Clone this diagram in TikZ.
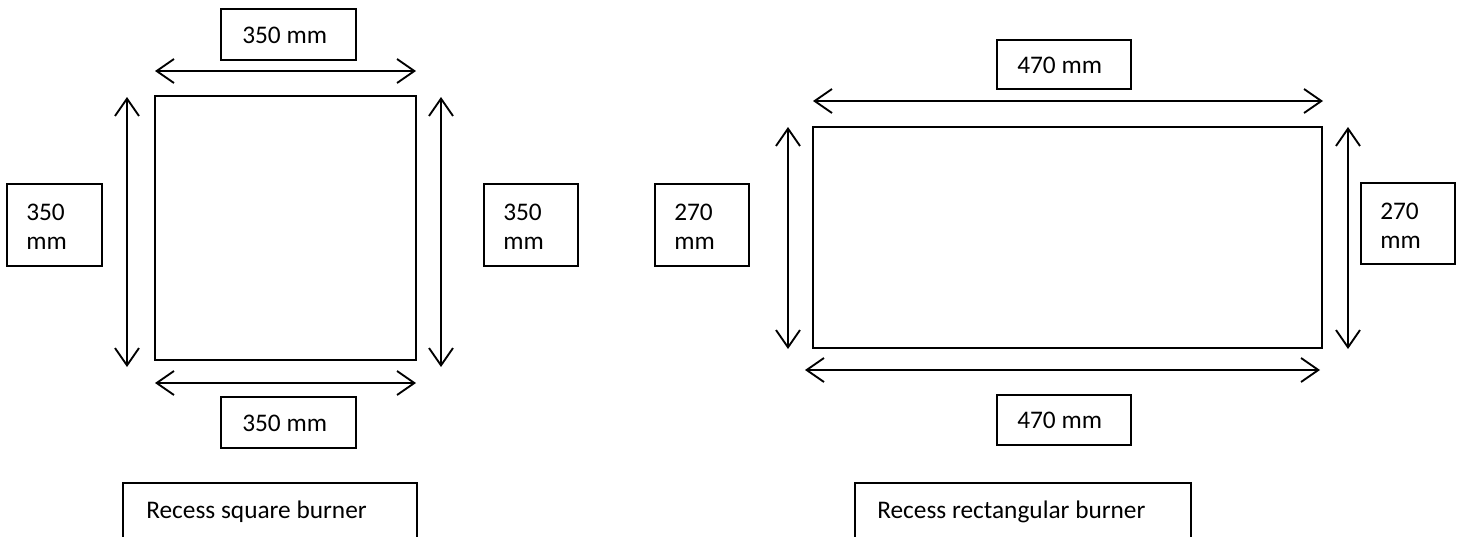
\documentclass[tikz,border=0pt]{standalone}
\usepackage{fontspec}
\setmainfont{Carlito}
\usetikzlibrary{arrows.meta}
\begin{document}
\begin{tikzpicture}[x=0.75pt,y=-0.75pt,
  dim/.style={line width=1.5pt,{Straight Barb[length=13pt,width=18pt,line width=1.4pt]}-{Straight Barb[length=13pt,width=18pt,line width=1.4pt]}},
  part/.style={draw,line width=0.9pt},
  txt/.style={anchor=west,inner sep=0pt,font=\fontsize{19}{21.5}\selectfont,align=left}]
\useasboundingbox (0,0) rectangle (1464,536);
% ---------- square burner ----------
\draw[part] (155,96) rectangle (416,360);
\coordinate (sTl) at (155,71); \coordinate (sTr) at (416,71);
\draw[dim] (sTl) -- (sTr);
\coordinate (sLt) at (127,97); \coordinate (sLb) at (127,367);
\draw[dim] (sLt) -- (sLb);
\coordinate (sRt) at (441,97); \coordinate (sRb) at (441,367);
\draw[dim] (sRt) -- (sRb);
\coordinate (sBl) at (155,383); \coordinate (sBr) at (416,383);
\draw[dim] (sBl) -- (sBr);
\draw[part] (221,9) rectangle (356,60);
\node[txt] (t1) at (242,35) {350 mm};
\draw[part] (7,184) rectangle (102,266);
\node[txt] (t2) at (26,227) {350\\mm};
\draw[part] (484,184) rectangle (578,266);
\node[txt] (t3) at (503,227) {350\\mm};
\draw[part] (221,397) rectangle (356,448);
\node[txt] (t4) at (242,423) {350 mm};
\draw[part] (123,545) -- (123,483) -- (417,483) -- (417,545);
\node[txt] (t5) at (146,512) {Recess square burner};
% ---------- rectangular burner ----------
\draw[part] (813,127) rectangle (1322,348);
\coordinate (rTl) at (813,101); \coordinate (rTr) at (1323,101);
\draw[dim] (rTl) -- (rTr);
\coordinate (rLt) at (788,127); \coordinate (rLb) at (788,349);
\draw[dim] (rLt) -- (rLb);
\coordinate (rRt) at (1348,127); \coordinate (rRb) at (1348,349);
\draw[dim] (rRt) -- (rRb);
\coordinate (rBl) at (805,370); \coordinate (rBr) at (1320,370);
\draw[dim] (rBl) -- (rBr);
\draw[part] (997,40) rectangle (1131,89);
\node[txt] (u1) at (1017,65) {470 mm};
\draw[part] (655,184) rectangle (749,266);
\node[txt] (u2) at (674,227) {270\\mm};
\draw[part] (1361,183) rectangle (1455,264);
\node[txt] (u3) at (1380,226) {270\\mm};
\draw[part] (997,395) rectangle (1131,445);
\node[txt] (u4) at (1017,420) {470 mm};
\draw[part] (855,545) -- (855,483) -- (1191,483) -- (1191,545);
\node[txt] (u5) at (877,512) {Recess rectangular burner};
\end{tikzpicture}
\end{document}
